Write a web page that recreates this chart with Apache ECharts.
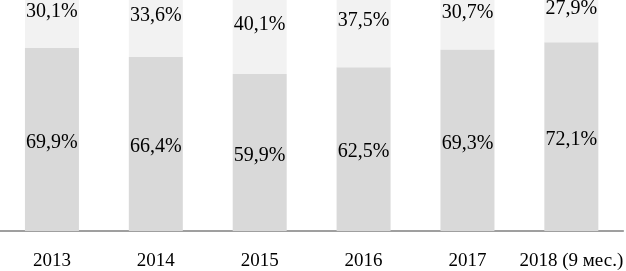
<!DOCTYPE html>
<html>
<head>
<meta charset="utf-8">
<script src="https://cdn.jsdelivr.net/npm/echarts@6/dist/echarts.min.js"></script>
<style>
  html, body { margin: 0; padding: 0; background: #fff; }
  #chart { width: 626px; height: 271px; }
</style>
</head>
<body>
<div id="chart"></div>
<script>
var years = ['2013', '2014', '2015', '2016', '2017', '2018 (9 мес.)'];
var lowerShare = [69.9, 66.4, 59.9, 62.5, 69.3, 72.1];
var upperShare = [30.1, 33.6, 40.1, 37.5, 30.7, 27.9];

var chartDom = document.getElementById('chart');
var myChart = echarts.init(chartDom);

function pct(p) {
    return p.value.toFixed(1).replace('.', ',') + '%';
}

// the 100% top of the bars sits above the visible area in the original
var option = {
    animation: false,
    textStyle: { fontFamily: 'Liberation Serif' },
    grid: {
        left: 0,
        right: 0,
        top: 0,
        bottom: 39
    },
    xAxis: {
        type: 'category',
        data: years,
        axisLine: { lineStyle: { color: '#808080', width: 1.5 } },
        axisTick: { show: false },
        axisLabel: {
            interval: 0,
            color: '#000',
            fontSize: 19,
            fontFamily: 'Liberation Serif',
            margin: 21
        }
    },
    yAxis: {
        type: 'value',
        min: 0,
        max: 88.2,
        show: false
    },
    series: [
        {
            type: 'bar',
            stack: 'total',
            clip: false,
            data: lowerShare,
            barWidth: 54,
            itemStyle: { color: '#d9d9d9' },
            label: {
                show: true,
                position: 'inside',
                offset: [0, 3],
                color: '#000',
                fontSize: 20,
                fontFamily: 'Liberation Serif',
                formatter: pct
            }
        },
        {
            type: 'bar',
            stack: 'total',
            clip: false,
            data: upperShare,
            barWidth: 54,
            itemStyle: { color: '#f2f2f2' },
            label: {
                show: true,
                position: 'inside',
                offset: [0, 3],
                color: '#000',
                fontSize: 20,
                fontFamily: 'Liberation Serif',
                formatter: pct
            }
        }
    ]
};

option && myChart.setOption(option);
</script>
</body>
</html>
